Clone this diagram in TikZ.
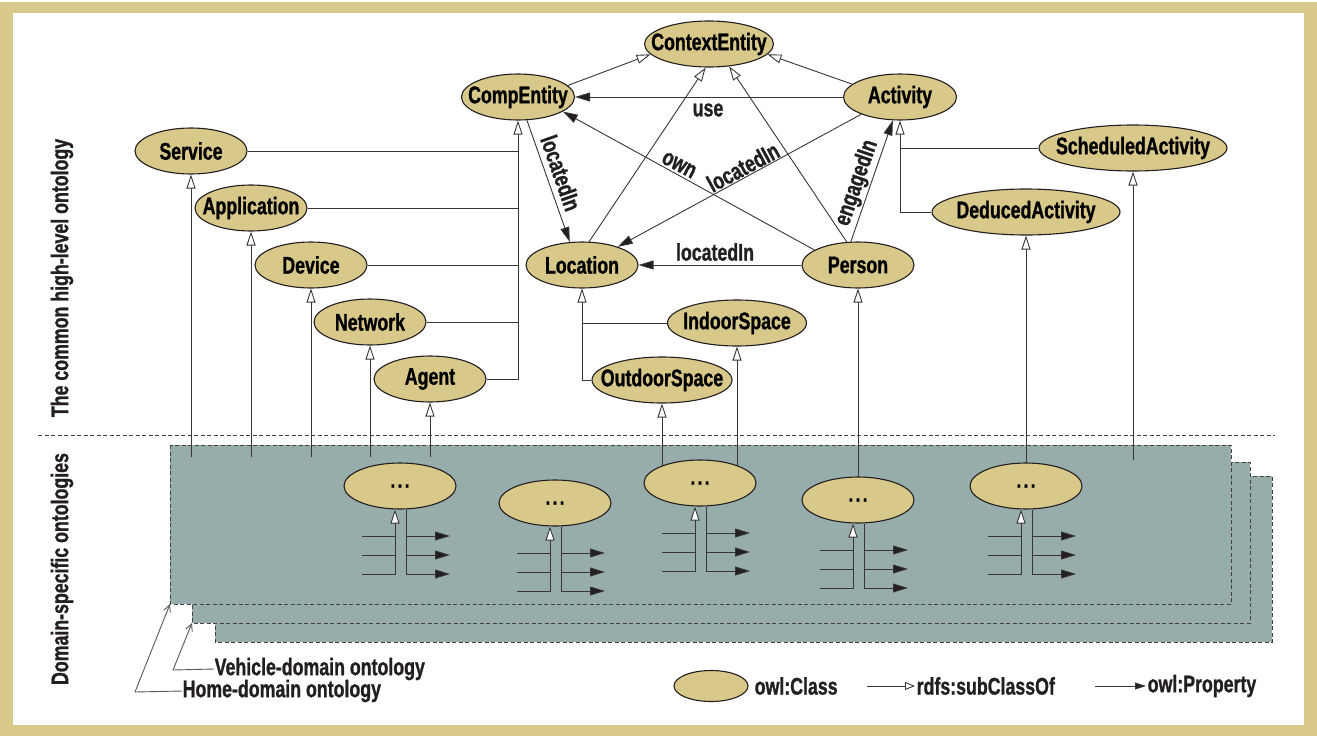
\documentclass[tikz,border=0pt]{standalone}
\usepackage{fontspec}
\setmainfont{Liberation Sans}[FakeStretch=0.74, BoldFeatures={FakeBold=1}]
\usetikzlibrary{shapes.geometric,arrows.meta,calc}
\definecolor{khaki}{HTML}{D8C88A}
\definecolor{framecol}{HTML}{D9CA8C}
\definecolor{domfill}{HTML}{97ADAB}
\definecolor{ink}{HTML}{231F20}
\newcommand\zw[1]{\makebox[0pt]{#1}}
\newcommand\dotz{\makebox[0pt]{\fontsize{22}{24}\selectfont\raisebox{-2pt}{.\kern2.5pt.\kern2.5pt.}}}
\pgfdeclarelayer{back}
\pgfdeclarelayer{conn}
\pgfsetlayers{back,conn,main}
\tikzset{
  cls/.style={ellipse, draw=ink, line width=1.1pt, fill=khaki, minimum height=46pt, inner sep=0pt, minimum width=#1},
  cls/.default=112pt,
  wire/.style={draw=ink!90, line width=0.9pt},
  sub/.style={wire, -{Triangle[length=14pt,width=9pt,fill=white,line width=0.9pt]}},
  subsmall/.style={wire, -{Triangle[length=10pt,width=8pt,fill=white,line width=0.9pt]}},
  prop/.style={wire, -{Triangle[length=15pt,width=9pt,fill=ink]}},
  propsmall/.style={wire, -{Triangle[length=11pt,width=7pt,fill=ink]}},
  ann/.style={wire, draw=ink!75, -{Straight Barb[length=7pt,width=7pt]}},
  dom/.style={fill=domfill, draw=ink!85, dash pattern=on 4pt off 2.5pt, line width=0.9pt},
  lbl/.style={inner sep=0.5pt, text=ink},
}
\begin{document}
\begin{tikzpicture}[x=1pt,y=-1pt,font=\fontsize{24}{28}\selectfont\bfseries]
\useasboundingbox (0,0) rectangle (1317,736);
% ---------- classes of the high-level ontology
\node[cls=129pt] (ctx) at (709,44) {\zw{ContextEntity}};
\node[cls=113pt] (comp) at (518,97) {\zw{CompEntity}};
\node[cls=113pt] (act) at (900,97) {\zw{Activity}};
\node[cls] (service) at (191,151) {\zw{Service}};
\node[cls] (app) at (251,208) {\zw{Application}};
\node[cls] (device) at (311,265) {\zw{Device}};
\node[cls] (network) at (370,322) {\zw{Network}};
\node[cls] (agent) at (430,379) {\zw{Agent}};
\node[cls] (loc) at (582,265) {\zw{Location}};
\node[cls] (person) at (858,265) {\zw{Person}};
\node[cls=139pt] (indoor) at (737,323) {\zw{IndoorSpace}};
\node[cls=140pt] (outdoor) at (662,380) {\zw{OutdoorSpace}};
\node[cls=188pt] (sched) at (1133,148) {\zw{ScheduledActivity}};
\node[cls=188pt] (deduced) at (1026,212) {\zw{DeducedActivity}};
% ---------- domain classes
\node[cls] (d1) at (400,486) {\dotz};
\node[cls] (d2) at (555,503) {\dotz};
\node[cls] (d3) at (700,483) {\dotz};
\node[cls] (d4) at (858,500) {\dotz};
\node[cls] (d5) at (1026,486) {\dotz};
% ---------- property labels
\node[lbl] (luse) at (708,110) {use};
\node[lbl, rotate=-70.6] (lloc1) at (561,173) {locatedIn};
\node[lbl, rotate=-27.6] (lown) at (679,165) {own};
\node[lbl, rotate=28.3] (lloc2) at (743,167) {locatedIn};
\node[lbl, rotate=71] (leng) at (857,183) {engagedIn};
\node[lbl] (lloc3) at (715,252) {locatedIn};
% ---------- side labels
\node[lbl, rotate=90] (hl) at (62,278) {The common high-level ontology};
\node[lbl, rotate=90] (dl) at (62,569) {Domain-specific ontologies};
% ---------- annotations
\coordinate (r1) at (170,604);
\coordinate (r2) at (192,623);
\coordinate (hk) at (135,692);
\coordinate (vk) at (173,670);
\node[lbl, anchor=west] (vtext) at (214,669) {Vehicle-domain ontology};
\node[lbl, anchor=west] (htext) at (182,691) {Home-domain ontology};
% ---------- legend
\node[cls=74pt, minimum height=31pt] (lg) at (711,686) {};
\node[lbl, anchor=west] (lgt) at (754,686) {owl:Class};
\coordinate (ls1) at (867,686);
\coordinate (ls2) at (915,686);
\node[lbl, anchor=west] (lst) at (916,686) {rdfs:subClassOf};
\coordinate (lp1) at (1095,686);
\coordinate (lp2) at (1146,686);
\node[lbl, anchor=west] (lpt) at (1147,686) {owl:Property};
% ---------- free ends
\coordinate (sv) at (191,457);
\coordinate (ap) at (251,457);
\coordinate (dv) at (311,457);
\coordinate (nw) at (370,457);
\coordinate (ag) at (430,457);
\coordinate (sc) at (1133,460);

\begin{pgfonlayer}{back}
  \fill[framecol] (0,2) rectangle (1317,736);
  \fill[white] (13,13) rectangle (1304,725);
  \draw[dom] (215,476) rectangle (1272,642);
  \draw[dom] (192,462) rectangle (1250,623);
  \draw[dom] (170,445) rectangle (1231,604);
  \draw[ink!85, line width=0.9pt, dash pattern=on 4pt off 2.5pt] (38,435) -- (1275,435);
\end{pgfonlayer}

\begin{pgfonlayer}{conn}
  % subclass links to ContextEntity
  \draw[sub] (comp.13) -- (ctx.190);
  \draw[sub] (act.165) -- (ctx.350);
  \draw[sub] (loc.73) -- (ctx.262);
  \draw[sub] (person.116) -- (ctx.312);
  % properties
  \draw[prop] (act.west) -- (comp.east);
  \draw[prop] (comp.291) -- (loc.118);
  \draw[prop] (person.161) -- (comp.342);
  \draw[prop] (act.204) -- (loc.27);
  \draw[prop] (person.107) -- (act.253);
  \draw[prop] (person.west) -- (loc.east);
  % CompEntity hierarchy
  \draw[sub] (agent.east) -| (comp.south);
  \foreach \n in {service,app,device,network}
    \draw[wire] (\n.east) -- (\n.east -| comp.south);
  % Location hierarchy
  \draw[sub] (outdoor.west) -| (loc.south);
  \draw[wire] (indoor.west) -- (indoor.west -| loc.south);
  % Activity hierarchy
  \draw[sub] (deduced.west) -| (act.south);
  \draw[wire] (sched.west) -- (sched.west -| act.south);
  % links from the domain ontologies
  \draw[sub] (sv) -- (service.south);
  \draw[sub] (ap) -- (app.south);
  \draw[sub] (dv) -- (device.south);
  \draw[sub] (nw) -- (network.south);
  \draw[sub] (ag) -- (agent.south);
  \draw[sub] (d3.center -| outdoor.south) -- (outdoor.south);
  \draw[sub] (d3.center -| indoor.south) -- (indoor.south);
  \draw[sub] (d4.center) -- (person.south);
  \draw[sub] (d5.center) -- (deduced.south);
  \draw[sub] (sc) -- (sched.south);
  % property stubs under the domain classes
  \foreach \n in {d1,d2,d3,d4,d5}{
    \draw[wire] ([shift={(-38,50)}]\n.center) -- ([shift={(-5,50)}]\n.center);
    \draw[wire] ([shift={(-38,69)}]\n.center) -- ([shift={(-5,69)}]\n.center);
    \draw[sub] ([shift={(-38,88)}]\n.center) -| ([xshift=-5pt]\n.south);
    \draw[prop] ([shift={(6,50)}]\n.center) -- ([shift={(50,50)}]\n.center);
    \draw[prop] ([shift={(6,69)}]\n.center) -- ([shift={(50,69)}]\n.center);
    \draw[prop] ([xshift=6pt]\n.south) |- ([shift={(50,88)}]\n.center);
  }
  % annotations
  \draw[ann] (vtext.west) -- (vk) -- (r2);
  \draw[ann] (htext.west) -- (hk) -- (r1);
  % legend
  \draw[subsmall] (ls1) -- (ls2);
  \draw[propsmall] (lp1) -- (lp2);
\end{pgfonlayer}
\end{tikzpicture}
\end{document}
